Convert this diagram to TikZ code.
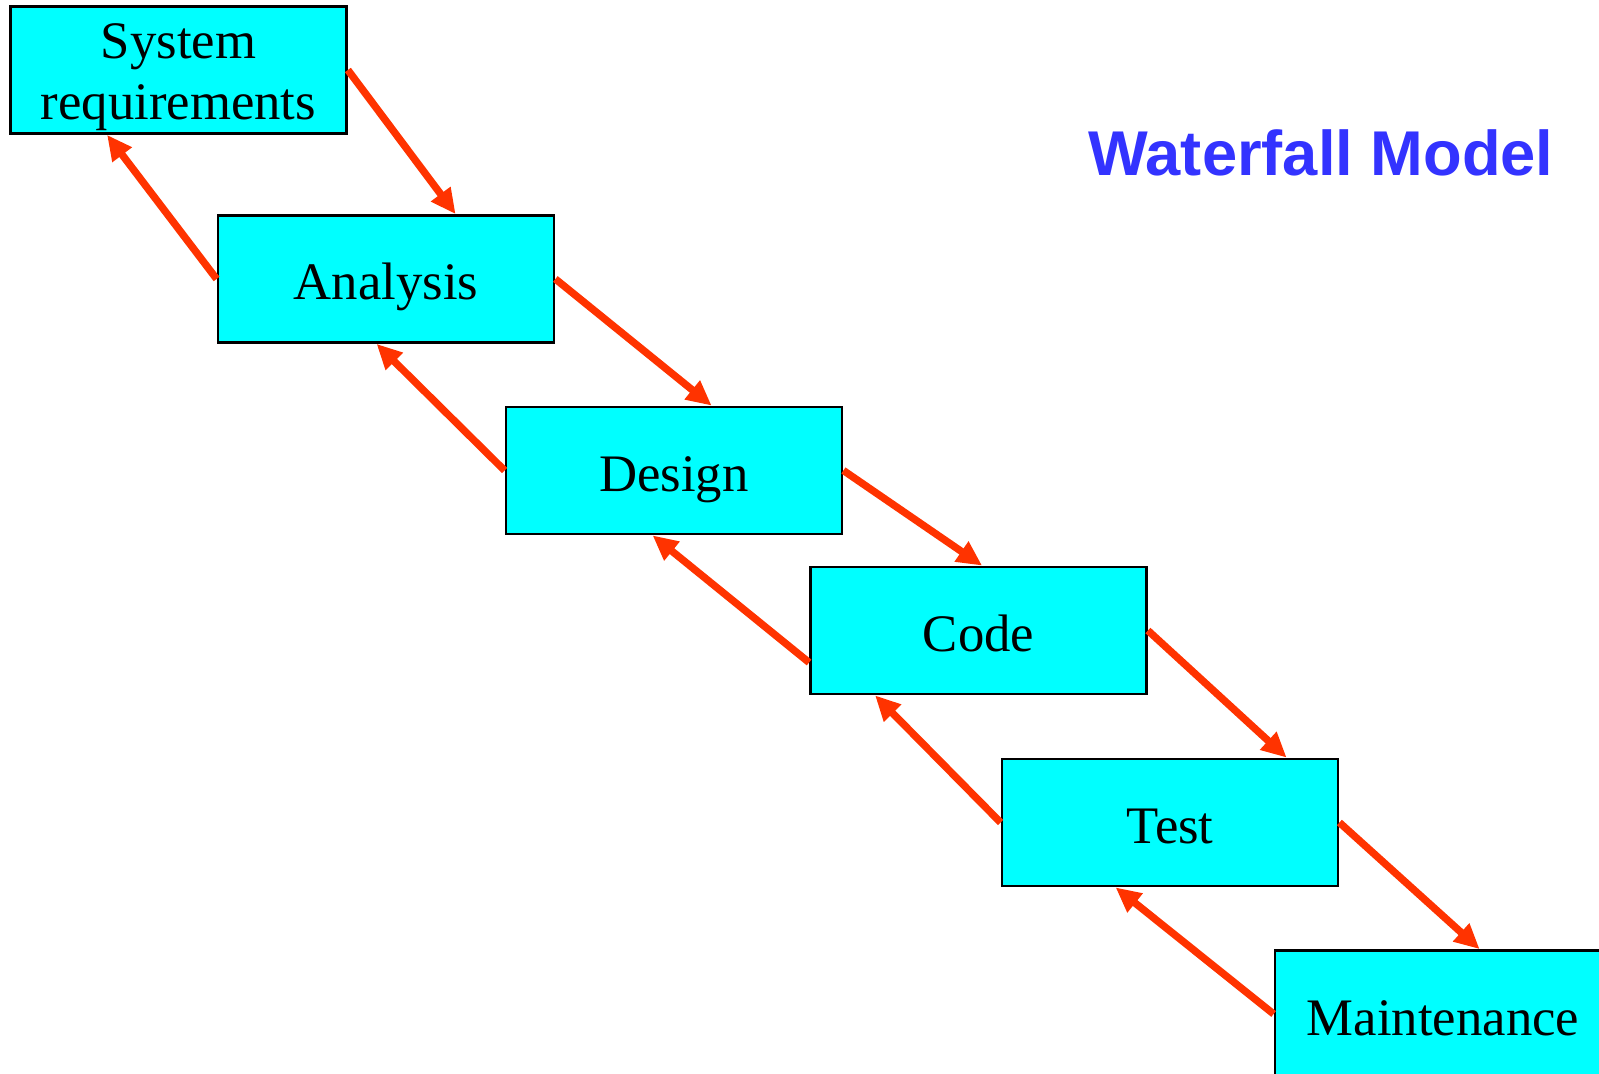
\documentclass[tikz,border=0pt]{standalone}
\usepackage{fontspec}
\setmainfont{Liberation Serif}
\newfontfamily\headfont{Liberation Sans}
\usetikzlibrary{arrows.meta,positioning,calc}
\definecolor{wfcyan}{HTML}{00FFFF}
\definecolor{wfred}{HTML}{FF3300}
\definecolor{wfblue}{HTML}{3333FF}
\tikzset{
  >={Triangle[length=2.5mm,width=2.3mm]},
  % faser
  phase/.style={rectangle,draw=black,fill=wfcyan,line width=0.8pt,
                minimum width=3.36cm,minimum height=1.27cm,inner sep=0pt,
                text height=0.56cm,text depth=0.14cm,
                align=center,font=\fontsize{15}{17.4}\selectfont},
  fwd/.style={->,draw=wfred,line width=2.1pt},
  back/.style={->,draw=wfred,line width=2.1pt},
  heading/.style={font=\headfont\bfseries\fontsize{18}{22}\selectfont,text=wfblue},
}
\begin{document}
\begin{tikzpicture}
\useasboundingbox (0,0) rectangle (15.99,-10.74);
  \node[phase,text height=1.11cm,text depth=0.11cm] (sr) at (1.785,-0.70) {System\\requirements};
  \node[phase] (an) at (3.86,-2.79) {Analysis};
  \node[phase] (de) at (6.74,-4.705) {Design};
  \node[phase] (co) at (9.785,-6.305) {Code};
  \node[phase] (te) at (11.70,-8.225) {Test};
  \node[phase] (ma) at (14.43,-10.14) {Maintenance};
  \node[heading] (title) at (13.21,-1.53) {Waterfall Model};
  % nedåt
  \draw[fwd] (sr.east) -- ([xshift=2.39cm]an.north west);
  \draw[fwd] (an.east) -- ([xshift=2.07cm]de.north west);
  \draw[fwd] (de.east) -- ([xshift=1.73cm]co.north west);
  \draw[fwd] (co.east) -- ([xshift=2.86cm]te.north west);
  \draw[fwd] (te.east) -- ([xshift=2.06cm]ma.north west);
  % uppåt
  \draw[back] (an.west) -- ([xshift=0.98cm]sr.south west);
  \draw[back] (de.west) -- ([xshift=1.60cm]an.south west);
  \draw[back] ([yshift=-0.32cm]co.west) -- ([xshift=1.48cm]de.south west);
  \draw[back] (te.west) -- ([xshift=0.66cm]co.south west);
  \draw[back] (ma.west) -- ([xshift=1.15cm]te.south west);
\end{tikzpicture}
\end{document}
